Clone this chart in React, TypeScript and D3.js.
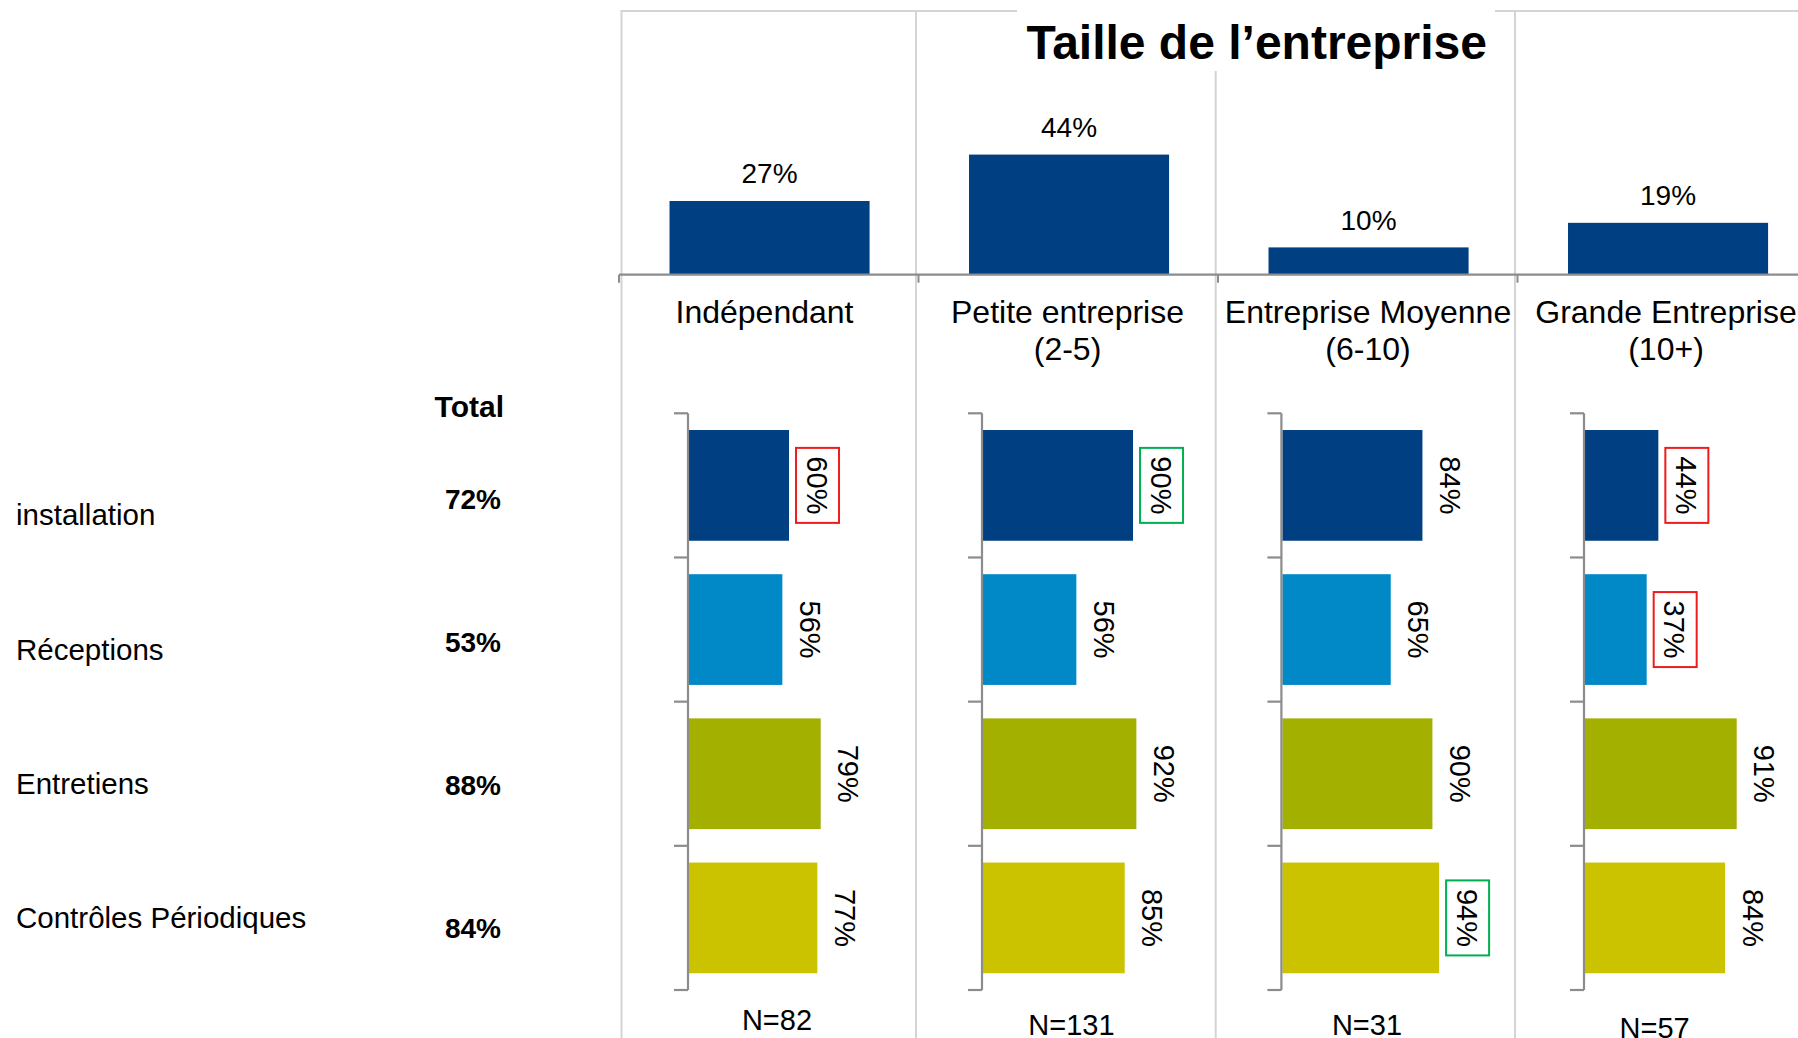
import React from "react";
import * as d3 from "d3";

// ---------- data ----------
const title = "Taille de l’entreprise";
const categories = ["Indépendant", "Petite entreprise", "Entreprise Moyenne", "Grande Entreprise"];
const categorySub = ["", "(2-5)", "(6-10)", "(10+)"];
const topValues = [27, 44, 10, 19];

const rows = ["installation", "Réceptions", "Entretiens", "Contrôles Périodiques"];
const totals = [72, 53, 88, 84];
const totalHeader = "Total";

const independant = [60, 56, 79, 77];
const petite = [90, 56, 92, 85];
const moyenne = [84, 65, 90, 94];
const grande = [44, 37, 91, 84];
const panelValues = [independant, petite, moyenne, grande];

const nCounts = [82, 131, 31, 57];

// highlighted labels: [category index, row index, kind]
const highlights: [number, number, string][] = [
  [0, 0, "red"],
  [1, 0, "green"],
  [2, 3, "green"],
  [3, 0, "red"],
  [3, 1, "red"],
];

const rowColors = ["#003F82", "#0088C7", "#A3B000", "#CCC300"];
const boxColors: Record<string, string> = { red: "#EE1C1C", green: "#00B050" };

// ---------- layout ----------
const W = 1798;
const H = 1038;
const FONT = "'Liberation Sans', Arial, Helvetica, sans-serif";
const separators = [621.5, 916, 1215.7, 1515];
const catLabelX = [764.5, 1067.5, 1368, 1666];
const panelAxisX = [688, 982, 1281.4, 1584];
const nLabelX = [777, 1071.4, 1367, 1654.6];
const nLabelY = [1029.5, 1035, 1034.5, 1038];

export default function App() {
  const topX = d3
    .scaleBand<string>()
    .domain(categories)
    .range([619.8, 1817.8])
    .paddingInner(0.332)
    .paddingOuter(0.166);
  const topY = d3.scaleLinear().domain([0, 100]).range([274.7, 1.7]);
  const topBase = topY(0);

  const rowY = d3
    .scaleBand<string>()
    .domain(rows)
    .range([413.3, 990])
    .paddingInner(0.232)
    .paddingOuter(0.116);
  const barX = d3.scaleLinear().domain([0, 100]).range([0, 166.7]);

  const labelY = d3.scalePoint<string>().domain(rows).range([525.3, 928.3]);
  const totalY = d3.scalePoint<string>().domain(rows).range([509.3, 937.9]);

  const step = rowY.step();
  const r0 = rowY.range()[0];
  const tickYs = d3.range(rows.length + 1).map((i) => r0 + i * step);
  const topStep = topX.step();
  const topTicks = categories.map((_, i) => 619 + i * topStep);

  const hl = new Map(highlights.map(([c, r, k]) => [`${c}-${r}`, k]));

  return (
    <svg
      width={W}
      height={H}
      style={{ position: "absolute", left: 0, top: 0, background: "#fff" }}
      fontFamily={FONT}
    >
      <rect x={0} y={0} width={W} height={H} fill="#fff" />

      {/* frame lines */}
      <line x1={separators[0]} x2={W} y1={11} y2={11} stroke="#D4D4D4" strokeWidth={2} />
      {separators.map((x, i) => (
        <line key={i} x1={x} x2={x} y1={10} y2={H} stroke="#D4D4D4" strokeWidth={2} />
      ))}
      {/* title backdrop */}
      <rect x={1017} y={0} width={478} height={71} fill="#fff" />
      <text x={1256.7} y={58.5} fontSize={48} fontWeight="bold" textAnchor="middle" fill="#000">
        {title}
      </text>

      {/* top bars */}
      {categories.map((c, i) => {
        const v = topValues[i];
        const x = topX(c)!;
        return (
          <g key={c}>
            <rect x={x} y={topY(v)} width={topX.bandwidth()} height={topBase - topY(v)} fill={rowColors[0]} />
            <text x={x + topX.bandwidth() / 2} y={topY(v) - 17.7} fontSize={28} textAnchor="middle" fill="#000">
              {`${v}%`}
            </text>
          </g>
        );
      })}
      <line x1={619} x2={W} y1={topBase} y2={topBase} stroke="#8C8C8C" strokeWidth={2.2} />
      {topTicks.map((x, i) => (
        <line key={i} x1={x} x2={x} y1={topBase} y2={topBase + 8} stroke="#8C8C8C" strokeWidth={2} />
      ))}

      {/* category labels */}
      {categories.map((c, i) => {
        const cx = catLabelX[i];
        return (
          <g key={c}>
            <text x={cx} y={323} fontSize={32} textAnchor="middle" fill="#000">
              {c}
            </text>
            {categorySub[i] && (
              <text x={cx} y={359.5} fontSize={32} textAnchor="middle" fill="#000">
                {categorySub[i]}
              </text>
            )}
          </g>
        );
      })}

      {/* left labels */}
      <text x={504} y={416.6} fontSize={30} fontWeight="bold" textAnchor="end" fill="#000">
        {totalHeader}
      </text>
      {rows.map((r, i) => (
        <g key={r}>
          <text x={16} y={labelY(r)} fontSize={29.5} fill="#000">
            {r}
          </text>
          <text x={501} y={totalY(r)} fontSize={28} fontWeight="bold" textAnchor="end" fill="#000">
            {`${totals[i]}%`}
          </text>
        </g>
      ))}

      {/* bottom panels */}
      {panelValues.map((vals, ci) => {
        const ax = panelAxisX[ci];
        return (
          <g key={ci}>
            {rows.map((r, ri) => {
              const v = vals[ri];
              const y = rowY(r)!;
              const cy = y + rowY.bandwidth() / 2;
              const end = ax + 1 + barX(v);
              const kind = hl.get(`${ci}-${ri}`);
              return (
                <g key={r}>
                  <rect x={ax + 1} y={y} width={barX(v)} height={rowY.bandwidth()} fill={rowColors[ri]} />
                  {kind && (
                    <rect
                      x={end + 7}
                      y={cy - 37.5}
                      width={43}
                      height={75}
                      fill="#fff"
                      stroke={boxColors[kind]}
                      strokeWidth={2}
                    />
                  )}
                  <text
                    transform={`translate(${end + 27.5},${cy}) rotate(90)`}
                    fontSize={29}
                    textAnchor="middle"
                    dominantBaseline="central"
                    fill="#000"
                  >
                    {`${v}%`}
                  </text>
                </g>
              );
            })}
            <line x1={ax} x2={ax} y1={tickYs[0]} y2={tickYs[tickYs.length - 1]} stroke="#8C8C8C" strokeWidth={2.2} />
            {tickYs.map((ty, k) => (
              <line key={k} x1={ax - 14} x2={ax} y1={ty} y2={ty} stroke="#8C8C8C" strokeWidth={2.2} />
            ))}
            <text x={nLabelX[ci]} y={nLabelY[ci]} fontSize={29} textAnchor="middle" fill="#000">
              {`N=${nCounts[ci]}`}
            </text>
          </g>
        );
      })}
    </svg>
  );
}
